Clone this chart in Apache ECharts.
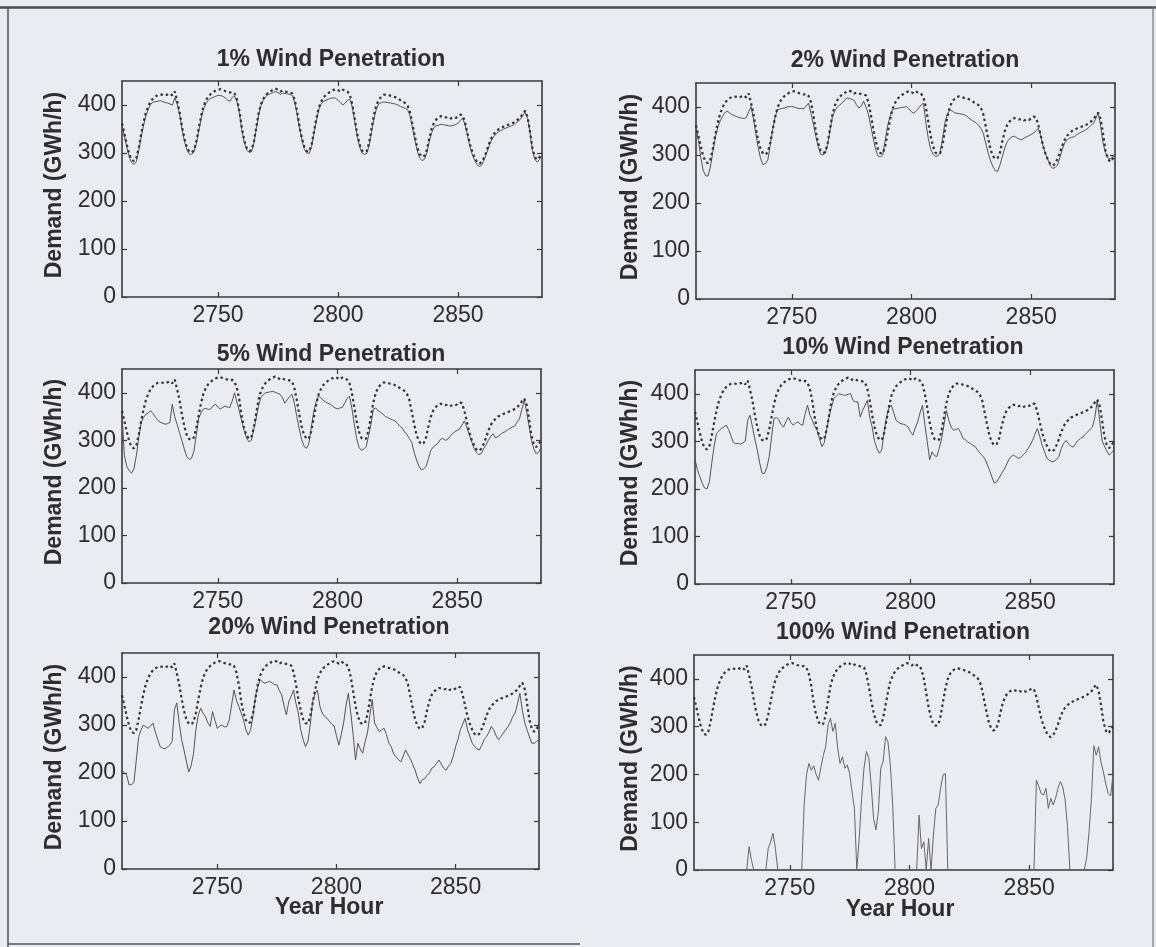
<!DOCTYPE html>
<html>
<head>
<meta charset="utf-8">
<title>Net demand under wind penetration</title>
<script src="https://cdn.jsdelivr.net/npm/echarts@6/dist/echarts.min.js"></script>
<style>
  html, body { margin: 0; padding: 0; background: #ebebf2; }
  #chart { width: 1156px; height: 947px; }
</style>
</head>
<body>
<div id="chart"></div>
<script>
// Hourly demand (GWh/h) starting at year hour 2710
const HOUR_START = 2710;
const X_MIN = 2710, X_MAX = 2885;
const Y_MIN = 0, Y_MAX = 450;
const xTicks = [2750, 2800, 2850];
const yTicks = [0, 100, 200, 300, 400];

// Unmodified demand curve (dotted)
const demand = [
  362,340,318,298,286,283,290,312,340,365,
  385,398,408,414,418,421,422,421,420,422,
  424,420,428,408,385,355,330,312,303,301,
  306,325,352,378,398,410,418,423,427,430,
  432,433,431,429,428,426,427,423,410,385,
  350,325,310,304,306,325,355,385,403,414,
  421,426,429,432,434,432,428,430,428,427,
  426,424,410,385,355,330,312,304,303,318,
  345,372,395,407,416,421,425,428,431,433,
  431,428,432,429,428,420,400,370,340,318,
  305,302,304,322,352,380,400,411,417,421,
  422,421,419,418,416,414,410,407,404,398,
  385,360,335,312,298,292,294,306,330,350,
  363,370,374,377,376,374,375,372,374,373,
  376,380,378,362,340,318,302,290,281,278,
  282,292,305,320,332,340,345,350,352,355,
  357,359,361,363,366,370,374,382,388,375,
  345,310,292,286,292,300
];

// Demand net of wind, 1% penetration
const net1 = [
  358,335,312,292,280,276,282,305,333,358,
  378,392,402,406,407,408,409,407,405,404,
  402,400,415,402,380,350,325,307,298,297,
  302,320,347,372,392,403,410,414,416,418,
  420,420,418,415,410,408,416,418,405,380,
  346,321,306,301,303,321,351,381,400,411,
  418,422,424,426,428,426,422,425,424,423,
  422,420,405,380,350,326,308,300,299,314,
  340,367,390,402,408,410,412,414,415,414,
  410,405,400,404,410,412,395,365,335,313,
  300,297,299,316,345,372,392,402,405,406,
  406,405,404,403,402,400,397,395,393,390,
  378,352,328,305,290,284,287,300,323,342,
  353,357,358,360,359,358,357,356,358,359,
  362,368,372,358,335,312,296,284,275,272,
  276,287,300,315,327,335,340,345,347,350,
  352,354,356,358,362,366,370,378,385,372,
  342,306,287,281,287,296
];

// Demand net of wind, 2% penetration
const net2 = [
  360,330,295,268,257,256,275,305,335,355,
  370,380,388,391,388,384,382,380,378,377,
  376,378,390,401,375,345,315,292,280,282,
  290,320,352,378,394,396,397,398,400,401,
  401,400,398,397,397,396,402,408,387,365,
  340,318,302,300,304,322,352,380,392,400,
  404,408,414,419,418,416,414,405,398,402,
  412,400,385,360,335,312,298,296,300,330,
  360,380,394,396,397,398,399,400,401,396,
  390,387,392,398,404,408,368,335,312,302,
  297,298,305,335,368,385,394,392,388,387,
  386,385,384,381,377,373,370,367,362,355,
  345,325,305,288,276,267,266,280,298,315,
  328,334,338,339,336,333,332,335,338,340,
  343,346,350,356,340,318,302,290,278,272,
  274,279,295,312,325,332,335,337,338,342,
  345,348,350,353,357,362,366,376,388,360,
  325,305,294,292,296,300
];

// Demand net of wind, 5% penetration
const net5 = [
  355,268,245,236,231,240,268,305,338,348,
  355,358,362,356,348,342,338,336,334,335,
  338,376,350,334,316,300,282,266,260,262,
  276,310,345,358,366,367,365,366,372,376,
  370,366,369,372,370,369,382,400,380,362,
  340,321,305,297,300,322,345,372,390,396,
  400,401,402,403,401,399,397,390,378,385,
  392,397,378,350,325,302,288,283,292,325,
  358,380,393,390,384,381,378,376,372,368,
  366,368,369,378,388,393,368,335,304,285,
  279,282,287,310,334,366,368,362,359,355,
  350,348,345,343,341,336,330,326,318,312,
  304,296,275,259,246,238,240,245,262,279,
  286,290,294,302,304,300,302,308,314,318,
  321,324,332,341,328,312,298,283,275,270,
  272,282,290,300,308,314,305,308,312,316,
  318,322,325,328,330,338,345,365,385,360,
  330,300,282,272,275,285
];

// Demand net of wind, 10% penetration
const net10 = [
  262,240,226,212,202,200,215,254,290,317,
  322,327,330,334,325,312,298,295,296,294,
  297,300,344,355,330,305,282,255,233,232,
  245,268,310,348,350,345,335,330,342,351,
  340,334,338,341,336,334,358,376,355,344,
  332,323,305,289,297,325,351,372,390,395,
  400,399,397,397,399,400,386,383,383,351,
  365,375,386,350,330,300,285,275,282,320,
  351,370,376,360,344,340,337,336,334,330,
  320,313,328,341,360,376,335,300,261,278,
  270,268,285,306,335,365,344,330,323,325,
  327,318,306,303,298,296,292,289,282,275,
  270,264,252,240,225,212,215,223,232,240,
  250,261,268,271,268,264,266,271,276,284,
  292,302,315,327,310,292,278,264,260,257,
  258,262,268,285,296,302,295,290,288,295,
  302,306,309,315,320,325,330,350,386,345,
  302,290,280,271,276,282
];

// Demand net of wind, 20% penetration
const net20 = [
  206,200,195,175,176,180,227,276,290,300,
  296,293,298,304,285,270,255,252,250,254,
  258,265,332,346,304,270,248,225,202,215,
  240,290,320,335,325,318,305,297,328,310,
  293,298,300,296,297,310,342,373,352,339,
  325,311,290,279,290,320,360,380,394,390,
  387,389,391,388,384,384,372,363,340,321,
  349,360,373,345,325,290,270,255,265,300,
  349,365,373,340,325,318,314,308,302,298,
  278,258,280,304,340,366,325,280,227,262,
  250,241,265,283,320,353,304,295,286,290,
  293,280,262,255,240,234,228,223,235,248,
  238,230,218,206,190,178,186,188,195,200,
  210,213,220,227,218,210,206,214,220,235,
  255,270,290,302,314,290,276,262,255,250,
  248,258,270,276,285,297,290,278,269,276,
  283,290,297,305,318,325,345,366,331,305,
  290,275,262,262,266,269
];

// Demand net of wind, 100% penetration (floored at zero)
const net100 = [
  0,0,0,0,0,0,0,0,0,0,
  0,0,0,0,0,0,0,0,0,0,
  0,0,0,49,20,0,0,0,0,0,
  0,45,59,77,45,0,0,0,0,0,
  0,0,0,0,0,0,136,200,223,209,
  218,200,188,215,240,258,304,318,290,307,
  255,223,237,213,220,202,164,129,0,66,
  150,213,248,235,178,108,84,122,213,227,
  279,269,220,136,0,0,0,0,0,0,
  0,0,0,0,115,45,59,0,66,0,
  73,129,136,171,199,202,0,0,0,0,
  0,0,0,0,0,0,0,0,0,0,
  0,0,0,0,0,0,0,0,0,0,
  0,0,0,0,0,0,0,0,0,0,
  0,0,0,188,175,160,157,171,129,150,
  136,150,171,185,174,147,91,0,0,0,
  0,0,0,0,25,80,150,260,240,258,
  225,205,180,160,155,200
];

const panelTitles = [
  '1% Wind Penetration', '2% Wind Penetration',
  '5% Wind Penetration', '10% Wind Penetration',
  '20% Wind Penetration', '100% Wind Penetration'
];
const panelSeries = [net1, net2, net5, net10, net20, net100];
const yAxisTitle = 'Demand (GWh/h)';
const xAxisTitle = 'Year Hour';

// Plot boxes of the 3x2 grid of panels (px)
const boxes = [
  { left: 122, top: 81,  width: 420, height: 216, titleX: 331, titleY: 60 },
  { left: 696, top: 83,  width: 419, height: 216, titleX: 905, titleY: 61 },
  { left: 122, top: 369, width: 419, height: 214, titleX: 331, titleY: 355 },
  { left: 695, top: 370, width: 419, height: 214, titleX: 903, titleY: 348 },
  { left: 122, top: 653, width: 417, height: 216, titleX: 329, titleY: 628 },
  { left: 694, top: 655, width: 419, height: 215, titleX: 903, titleY: 633 }
];

const FONT = '"Liberation Sans", Arial, sans-serif';
const INK = '#2e2e2e';
const BOX = '#3a3a3a';

const toPairs = vals => vals.map((v, i) => [HOUR_START + i, v]);
const plain = v => String(v);

const grids = [], xAxes = [], yAxes = [], series = [], graphics = [];

boxes.forEach((b, i) => {
  grids.push({ left: b.left, top: b.top, width: b.width, height: b.height, containLabel: false });

  const tickStyle = { show: true, inside: true, length: 5, lineStyle: { color: BOX, width: 1.2 } };
  // bottom axis with labels, top axis as the box edge with mirrored ticks
  xAxes.push({
    type: 'value', gridIndex: i, position: 'bottom', min: X_MIN, max: X_MAX,
    axisLine: { show: true, onZero: false, lineStyle: { color: BOX, width: 1.6 } },
    axisTick: Object.assign({ customValues: xTicks }, tickStyle),
    axisLabel: { customValues: xTicks, formatter: plain, margin: 7, fontSize: 23, fontFamily: FONT, color: INK },
    splitLine: { show: false }
  });
  xAxes.push({
    type: 'value', gridIndex: i, position: 'top', min: X_MIN, max: X_MAX,
    axisLine: { show: true, onZero: false, lineStyle: { color: BOX, width: 1.6 } },
    axisTick: Object.assign({ customValues: xTicks }, tickStyle),
    axisLabel: { show: false },
    splitLine: { show: false }
  });
  yAxes.push({
    type: 'value', gridIndex: i, position: 'left', min: Y_MIN, max: Y_MAX,
    axisLine: { show: true, onZero: false, lineStyle: { color: BOX, width: 1.6 } },
    axisTick: Object.assign({ customValues: yTicks }, tickStyle),
    axisLabel: { customValues: yTicks, formatter: plain, margin: 6, fontSize: 23, fontFamily: FONT, color: INK },
    splitLine: { show: false }
  });
  yAxes.push({
    type: 'value', gridIndex: i, position: 'right', min: Y_MIN, max: Y_MAX,
    axisLine: { show: true, onZero: false, lineStyle: { color: BOX, width: 1.6 } },
    axisTick: Object.assign({ customValues: yTicks }, tickStyle),
    axisLabel: { show: false },
    splitLine: { show: false }
  });

  // net demand (thin solid)
  series.push({
    type: 'line', xAxisIndex: 2 * i, yAxisIndex: 2 * i,
    data: toPairs(panelSeries[i]), showSymbol: false, symbol: 'none',
    lineStyle: { color: i === 5 ? '#666' : '#555', width: 1 },
    z: 2
  });
  // original demand (dotted)
  series.push({
    type: 'line', xAxisIndex: 2 * i, yAxisIndex: 2 * i,
    data: toPairs(demand), showSymbol: false, symbol: 'none',
    lineStyle: { color: '#333', width: 2.2, type: [2.5, 3] },
    z: 3
  });

  // panel title
  graphics.push({
    type: 'text', x: b.titleX, y: b.titleY, z: 10,
    style: { text: panelTitles[i], align: 'center', verticalAlign: 'middle',
             fontSize: 23, fontWeight: 'bold', fontFamily: FONT, fill: INK }
  });
  // vertical axis title
  const col = i % 2;
  graphics.push({
    type: 'text', x: col === 0 ? 55 : 631, y: b.top + b.height / 2 - 4,
    rotation: Math.PI / 2, z: 10,
    style: { text: yAxisTitle, align: 'center', verticalAlign: 'middle',
             fontSize: 23, fontWeight: 'bold', fontFamily: FONT, fill: INK }
  });
});

// horizontal axis titles under the bottom row
graphics.push({
  type: 'text', x: 329, y: 908, z: 10,
  style: { text: xAxisTitle, align: 'center', verticalAlign: 'middle',
           fontSize: 23, fontWeight: 'bold', fontFamily: FONT, fill: INK }
});
graphics.push({
  type: 'text', x: 900, y: 910, z: 10,
  style: { text: xAxisTitle, align: 'center', verticalAlign: 'middle',
           fontSize: 23, fontWeight: 'bold', fontFamily: FONT, fill: INK }
});

// page frame around the figure
graphics.push({ type: 'line', z: 5, shape: { x1: 0, y1: 7.5, x2: 1156, y2: 7.5 },
                style: { stroke: '#4a4a4a', lineWidth: 2.5 } });
graphics.push({ type: 'line', z: 5, shape: { x1: 8, y1: 7, x2: 8, y2: 947 },
                style: { stroke: '#555', lineWidth: 1.5 } });
graphics.push({ type: 'line', z: 5, shape: { x1: 1153, y1: 7, x2: 1153, y2: 947 },
                style: { stroke: '#777', lineWidth: 1.2 } });
graphics.push({ type: 'line', z: 5, shape: { x1: 8, y1: 944, x2: 580, y2: 944 },
                style: { stroke: '#555', lineWidth: 1.5 } });

const chart = echarts.init(document.getElementById('chart'), null, { renderer: 'canvas' });
chart.setOption({
  backgroundColor: '#ebebf2',
  animation: false,
  grid: grids,
  xAxis: xAxes,
  yAxis: yAxes,
  series: series,
  graphic: graphics
});
</script>
</body>
</html>
